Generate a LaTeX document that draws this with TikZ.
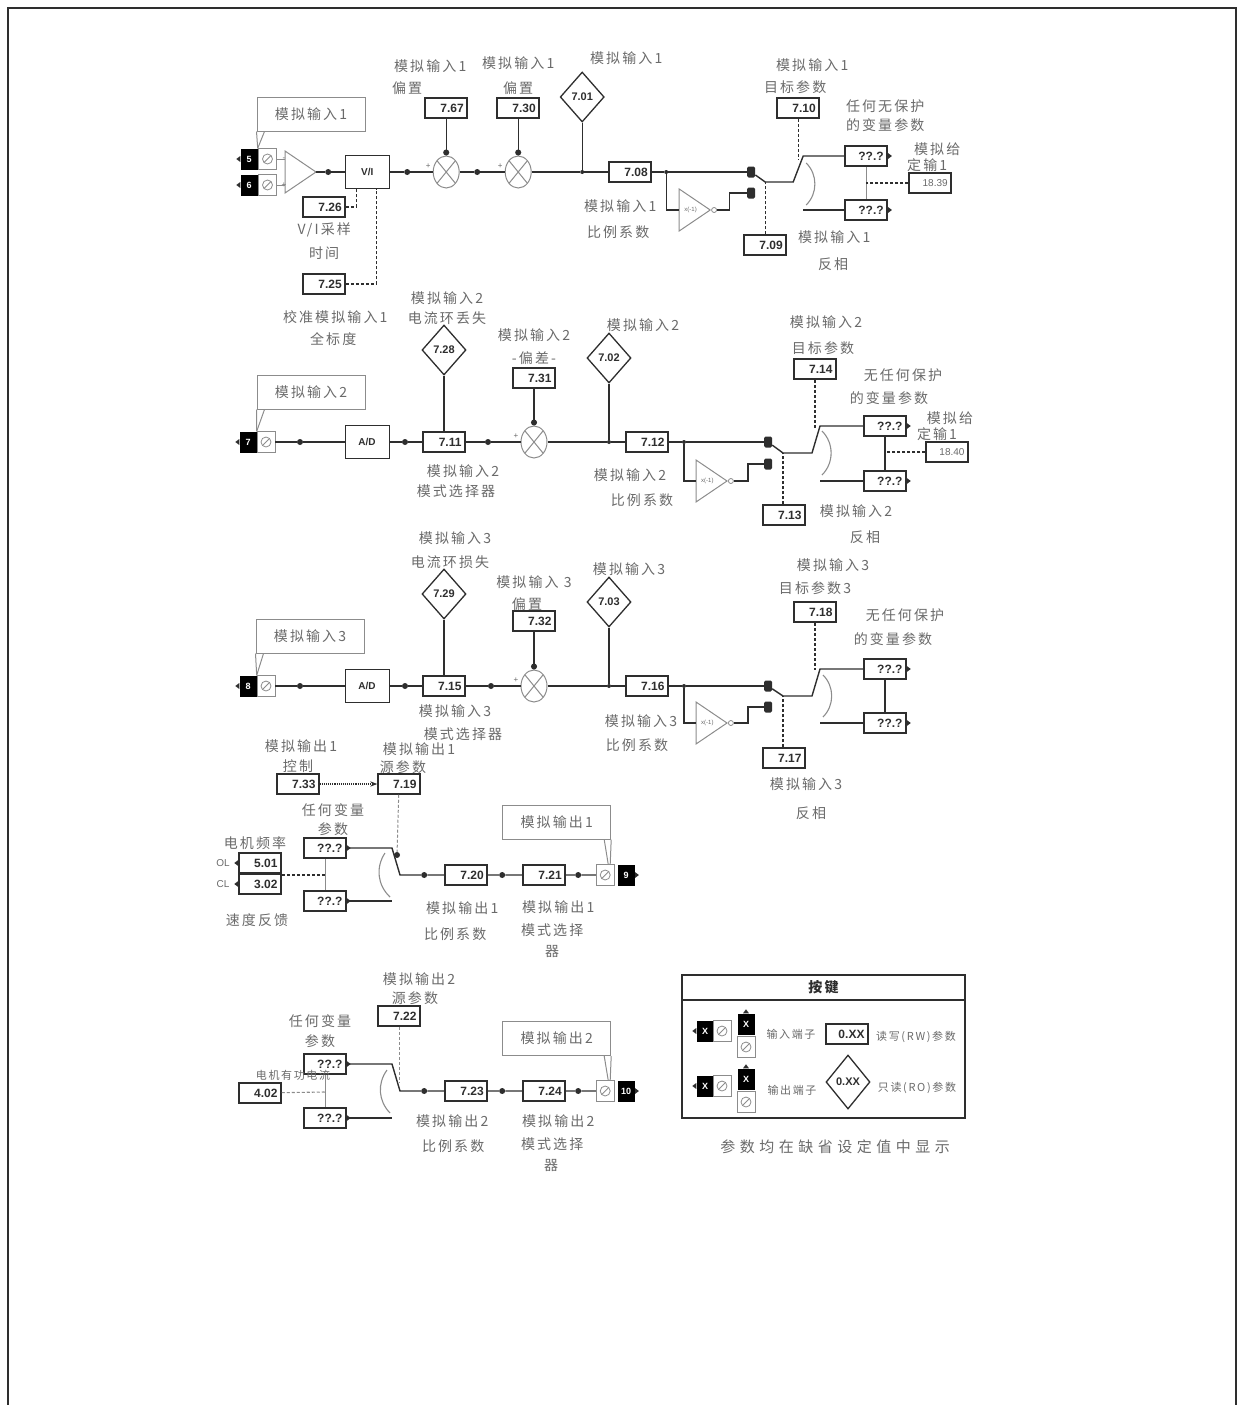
\documentclass[tikz,border=0pt]{standalone}
\usepackage{fontspec}
\setmainfont{Liberation Sans}
\newfontfamily\cjk[LetterSpace=15]{Noto Sans CJK SC}
\newfontfamily\cjkw[LetterSpace=30]{Noto Sans CJK SC}
\usepackage{tikz}
\usetikzlibrary{arrows.meta,positioning,shapes.geometric}
\definecolor{ink}{HTML}{2E2E2E}
\definecolor{soft}{HTML}{8C8C8C}
\definecolor{txt}{HTML}{6A6A6A}

\begin{document}
\begin{tikzpicture}[
  x=1pt, y=-1pt,
  node distance=0pt, on grid,
  lbl/.style={font=\cjk\fontsize{14}{16}\selectfont, text=txt, inner sep=0pt},
  keytxt/.style={font=\cjk\fontsize{11}{13}\selectfont, text=txt, inner sep=0pt},
  pbox/.style={draw=ink, line width=1.5pt, fill=white, text=ink, inner xsep=3.5pt, inner ysep=0pt,
               text width=35pt, align=right, minimum height=20pt, font=\fontsize{12}{12}\selectfont\bfseries},
  qbox/.style={pbox, tipe},
  gbox/.style={pbox, text=txt, font=\fontsize{10}{10}\selectfont},
  dmd/.style={diamond, draw=ink, line width=1.3pt, fill=white, text=ink, inner sep=0pt, aspect=0.88,
              minimum width=44pt, minimum height=50pt, font=\fontsize{11}{11}\selectfont\bfseries},
  blk/.style={draw=ink, line width=1pt, minimum width=44pt, minimum height=33pt, inner sep=0pt,
              text=ink, font=\fontsize{10}{10}\selectfont\bfseries},
  term/.style={fill=black, text=white, minimum width=17pt, minimum height=21pt, inner sep=0pt,
               font=\fontsize{9}{9}\selectfont\bfseries},
  hatch/.style={draw=soft, line width=0.8pt, minimum width=18pt, minimum height=21pt, inner sep=0pt,
                path picture={\draw[soft, line width=0.8pt] (path picture bounding box.center) circle (5pt);
                  \draw[soft, line width=0.8pt] ([shift={(-3.5pt,-3.5pt)}]path picture bounding box.center)
                  -- ([shift={(3.5pt,3.5pt)}]path picture bounding box.center);}},
  summer/.style={ellipse, draw=soft, line width=1pt, minimum width=26pt, minimum height=32pt, inner sep=0pt,
                 path picture={\draw[soft, line width=1pt] (path picture bounding box.north west)
                   -- (path picture bounding box.south east) (path picture bounding box.north east)
                   -- (path picture bounding box.south west);}},
  opamp/.style={isosceles triangle, isosceles triangle stretches, draw=soft, line width=1pt,
                minimum width=42pt, minimum height=31pt, inner sep=0pt, outer sep=0pt, text=txt,
                font=\fontsize{6}{6}\selectfont},
  bubble/.style={circle, draw=soft, line width=0.8pt, minimum size=5pt, inner sep=0pt},
  dot/.style={circle, fill=ink, minimum size=6pt, inner sep=0pt},
  jn/.style={circle, fill=ink, minimum size=4pt, inner sep=0pt},
  blob/.style={fill=ink, rounded corners=1.5pt, minimum width=8pt, minimum height=11pt, inner sep=0pt},
  calbox/.style={draw=soft, line width=1pt, minimum width=108pt, minimum height=34pt, inner sep=0pt,
                 font=\cjk\fontsize{14}{16}\selectfont, text=txt},
  plus/.style={inner sep=0pt, text=txt, font=\fontsize{8}{8}\selectfont},
  tipw/.style={append after command={\pgfextra{\fill[ink] (\tikzlastnode.west) ++(0,3pt) -- ++(-4pt,-3pt) -- ++(4pt,-3pt) -- cycle;}}},
  tipe/.style={append after command={\pgfextra{\fill[ink] (\tikzlastnode.east) ++(0,3pt) -- ++(4pt,-3pt) -- ++(-4pt,-3pt) -- cycle;}}},
  tipn/.style={append after command={\pgfextra{\fill[ink] (\tikzlastnode.north) ++(3pt,0) -- ++(-3pt,4pt) -- ++(-3pt,-4pt) -- cycle;}}},
  sig/.style={draw=ink, line width=1.4pt},
  sigin/.style={sig, -{Circle[length=6pt]}},
  dsh/.style={draw=ink, line width=1.1pt, densely dashed},
  gline/.style={draw=soft, line width=1pt},
  swarc/.style={draw=soft, line width=1.1pt},
  frame/.style={draw=ink, line width=2.5pt}]

\useasboundingbox (0,0) rectangle (1238,1405);
\draw[frame] (8,1405) -- (8,8) -- (1236,8) -- (1236,1405);

\node[term,tipw] (t5) at (249,159) {5};
\node[term,tipw,below=26pt of t5] (t6) {6};
\node[hatch,right=18.5pt of t5] (h5) {};
\node[hatch,right=18.5pt of t6] (h6) {};
\node[calbox,above right=45pt and 62pt of t5] (c1) {模拟输入1};
\node[opamp,below right=13pt and 67pt of t5,anchor=apex] (op1) {};
\node[plus,right=35pt of t5] (op1m) {-};
\node[plus,right=35pt of t6] (op1p) {+};
\node[dot,right=9pt of op1.apex] (d1a) {};
\node[blk,right=39pt of d1a] (vi) {V/I};
\node[dot,right=40pt of vi] (d1b) {};
\node[summer,right=39pt of d1b] (s1) {};
\node[dot,right=31pt of s1] (d1c) {};
\node[summer,right=41pt of d1c] (s2) {};
\node[jn,right=64pt of s2] (j1) {};
\node[pbox,right=48pt of j1] (p708) {7.08};
\node[jn,right=36pt of p708] (j2) {};
\node[blob,right=85pt of j2] (b1a) {};
\node[blob,below=21pt of b1a] (b1b) {};
\node[plus,above left=6pt and 18pt of s1] (s1p) {+};
\node[plus,above left=6pt and 18pt of s2] (s2p) {+};
\node[pbox,above=64pt of s1] (p767) {7.67};
\node[pbox,above=64pt of s2] (p730) {7.30};
\node[dmd,above=75pt of j1] (d701) {7.01};
\node[pbox,below left=35pt and 43pt of vi] (p726) {7.26};
\node[pbox,below=77pt of p726] (p725) {7.25};
\node[pbox,above right=64pt and 47pt of b1a] (p710) {7.10};
\node[pbox,below right=73pt and 14pt of b1a] (p709) {7.09};
\node[qbox,above right=16pt and 115pt of b1a] (q1a) {??.?};
\node[qbox,below=54pt of q1a] (q1b) {??.?};
\node[gbox,below right=27pt and 64pt of q1a] (p1839) {18.39};
\node[opamp,below right=38pt and 44pt of j2,anchor=apex] (inv1) {x(-1)};
\node[bubble,right=1pt of inv1.apex] (bub1) {};
\coordinate[below=38pt of j2] (k1a);
\coordinate[right=19pt of inv1.apex] (k1b);
\coordinate[above=17pt of k1b] (k1c);
\coordinate[below right=10pt and 14pt of b1a] (sw1a);
\coordinate[right=28pt of sw1a] (sw1b);
\coordinate[above right=26pt and 10pt of sw1b] (sw1c);
\coordinate[left=63pt of q1b] (sw1d);
\coordinate[below=52pt of p710] (sw1e);
\coordinate[below right=7pt and 3pt of sw1c] (arc1a);
\coordinate[above right=5pt and 3pt of sw1d] (arc1b);

\node[lbl,above left=42pt and 16pt of p767] (l1a) {模拟输入1};
\node[lbl,above left=20pt and 39pt of p767] (l1b) {偏置};
\node[lbl,above=45pt of p730] (l1c) {模拟输入1};
\node[lbl,above=20pt of p730] (l1d) {偏置};
\node[lbl,above right=39pt and 44pt of d701] (l1e) {模拟输入1};
\node[lbl,above right=43pt and 14pt of p710] (l1f) {模拟输入1};
\node[lbl,above left=21pt and 3pt of p710] (l1g) {目标参数};
\node[lbl,above right=50pt and 19pt of q1a] (l1h) {任何无保护};
\node[lbl,above right=31pt and 19pt of q1a] (l1i) {的变量参数};
\node[lbl,above right=34pt and 7pt of p1839] (l1j) {模拟给};
\node[lbl,above left=18pt and 3pt of p1839] (l1k) {定输1};
\node[lbl,below left=34pt and 10pt of p708] (l1l) {模拟输入1};
\node[lbl,below left=60pt and 12pt of p708] (l1m) {比例系数};
\node[lbl,above right=8pt and 69pt of p709] (l1n) {模拟输入1};
\node[lbl,below right=19pt and 68pt of p709] (l1o) {反相};
\node[lbl,below=23pt of p726] (l1p) {V/I采样};
\node[lbl,below=46pt of p726] (l1q) {时间};
\node[lbl,below right=33pt and 11pt of p725] (l1r) {校准模拟输入1};
\node[lbl,below right=55pt and 9pt of p725] (l1s) {全标度};

\draw[gline] (c1.south west) -- (t5.north east);
\draw[gline] ([xshift=8pt]c1.south west) -- (t5.north east);
\draw[gline] (h5.east) -- (h5 -| op1.lower side);
\draw[gline] (h6.east) -- (h6 -| op1.lower side);
\draw[sig] (op1.apex) -- (d1a) -- (vi) -- (d1b) -- (s1) -- (d1c) -- (s2) -- (j1) -- (p708) -- (j2) -- (b1a);
\draw[sigin] (p767) -- (s1);
\draw[sigin] (p730) -- (s2);
\draw[sig] (d701) -- (j1);
\draw[sig] (j2) -- (k1a) -- (inv1.lower side |- k1a);
\draw[sig] (bub1) -- (k1b) -- (k1c) -- (b1b);
\draw[sig] (b1a) -- (sw1a) -- (sw1b) -- (sw1c) -- (q1a);
\draw[sig] (sw1d) -- (q1b);
\draw[swarc] (arc1a) to[bend left=45] (arc1b);
\draw[dsh] (p710) -- (sw1e);
\draw[dsh] (p709) -- (sw1a);
\draw[gline] (q1a) -- (q1b);
\draw[dsh] (p1839) -- (p1839 -| q1a);
\draw[dsh] (p726.east) -| ([xshift=-11pt]vi.south);
\draw[dsh] (p725) -| ([xshift=9pt]vi.south);

\node[term,tipw] (t7) at (248,442) {7};
\node[hatch,right=18pt of t7] (h7) {};
\node[calbox,above right=50pt and 63pt of t7] (c2) {模拟输入2};
\node[dot,right=52pt of t7] (d2a) {};
\node[blk,right=119pt of t7] (ad2) {A/D};
\node[dot,right=38pt of ad2] (d2b) {};
\node[pbox,right=39pt of d2b] (p711) {7.11};
\node[dot,right=44pt of p711] (d2c) {};
\node[summer,right=46pt of d2c] (s3) {};
\node[plus,above left=6pt and 18pt of s3] (s3p) {+};
\node[jn,right=75pt of s3] (j3) {};
\node[pbox,right=38pt of j3] (p712) {7.12};
\node[jn,right=37pt of p712] (j4) {};
\node[blob,right=84pt of j4] (b2a) {};
\node[blob,below=22pt of b2a] (b2b) {};
\node[pbox,above=64pt of s3] (p731) {7.31};
\node[dmd,above=92pt of p711] (d728) {7.28};
\node[dmd,above=84pt of j3] (d702) {7.02};
\node[pbox,above right=73pt and 47pt of b2a] (p714) {7.14};
\node[pbox,below right=73pt and 16pt of b2a] (p713) {7.13};
\node[qbox,above right=16pt and 117pt of b2a] (q2a) {??.?};
\node[qbox,below=55pt of q2a] (q2b) {??.?};
\node[gbox,below right=26pt and 62pt of q2a] (p1840) {18.40};
\node[opamp,below right=39pt and 43pt of j4,anchor=apex] (inv2) {x(-1)};
\node[bubble,right=1pt of inv2.apex] (bub2) {};
\coordinate[below=39pt of j4] (k2a);
\coordinate[right=21pt of inv2.apex] (k2b);
\coordinate[above=17pt of k2b] (k2c);
\coordinate[below right=11pt and 15pt of b2a] (sw2a);
\coordinate[right=29pt of sw2a] (sw2b);
\coordinate[above right=27pt and 8pt of sw2b] (sw2c);
\coordinate[left=65pt of q2b] (sw2d);
\coordinate[below=59pt of p714] (sw2e);
\coordinate[below right=5pt and 2pt of sw2c] (arc2a);
\coordinate[above right=6pt and 2pt of sw2d] (arc2b);

\node[lbl,above right=52pt and 3pt of d728] (l2a) {模拟输入2};
\node[lbl,above right=32pt and 3pt of d728] (l2b) {电流环丢失};
\node[lbl,above=43pt of p731] (l2c) {模拟输入2};
\node[lbl,above=20pt of p731] (l2d) {-偏差-};
\node[lbl,above right=33pt and 34pt of d702] (l2e) {模拟输入2};
\node[lbl,below right=29pt and 19pt of p711] (l2f) {模拟输入2};
\node[lbl,below right=49pt and 12pt of p711] (l2g) {模式选择器};
\node[lbl,below left=33pt and 17pt of p712] (l2h) {模拟输入2};
\node[lbl,below left=58pt and 5pt of p712] (l2i) {比例系数};
\node[lbl,above right=47pt and 11pt of p714] (l2j) {模拟输入2};
\node[lbl,above right=21pt and 8pt of p714] (l2k) {目标参数};
\node[lbl,above right=51pt and 18pt of q2a] (l2l) {无任何保护};
\node[lbl,above right=28pt and 4pt of q2a] (l2m) {的变量参数};
\node[lbl,above right=34pt and 3pt of p1840] (l2n) {模拟给};
\node[lbl,above left=18pt and 10pt of p1840] (l2o) {定输1};
\node[lbl,above right=4pt and 72pt of p713] (l2p) {模拟输入2};
\node[lbl,below right=22pt and 81pt of p713] (l2q) {反相};

\draw[gline] (c2.south west) -- (t7.north east);
\draw[gline] ([xshift=8pt]c2.south west) -- (t7.north east);
\draw[sig] (h7) -- (d2a) -- (ad2) -- (d2b) -- (p711) -- (d2c) -- (s3) -- (j3) -- (p712) -- (j4) -- (b2a);
\draw[sigin] (p731) -- (s3);
\draw[sig] (d728) -- (p711);
\draw[sig] (d702) -- (j3);
\draw[sig] (j4) -- (k2a) -- (inv2.lower side |- k2a);
\draw[sig] (bub2) -- (k2b) -- (k2c) -- (b2b);
\draw[sig] (b2a) -- (sw2a) -- (sw2b) -- (sw2c) -- (q2a);
\draw[sig] (sw2d) -- (q2b);
\draw[swarc] (arc2a) to[bend left=45] (arc2b);
\draw[dsh] (p714) -- (sw2e);
\draw[dsh] (p713.north -| sw2a) -- (sw2a);
\draw[sig] (q2a) -- (q2b);
\draw[dsh] (p1840) -- (p1840 -| q2a);

\node[term,tipw] (t8) at (248,686) {8};
\node[hatch,right=18pt of t8] (h8) {};
\node[calbox,above right=50pt and 62pt of t8] (c3) {模拟输入3};
\node[dot,right=52pt of t8] (d3a) {};
\node[blk,right=119pt of t8] (ad3) {A/D};
\node[dot,right=38pt of ad3] (d3b) {};
\node[pbox,right=39pt of d3b] (p715) {7.15};
\node[dot,right=47pt of p715] (d3c) {};
\node[summer,right=43pt of d3c] (s4) {};
\node[plus,above left=6pt and 18pt of s4] (s4p) {+};
\node[jn,right=75pt of s4] (j5) {};
\node[pbox,right=38pt of j5] (p716) {7.16};
\node[jn,right=37pt of p716] (j6) {};
\node[blob,right=84pt of j6] (b3a) {};
\node[blob,below=21pt of b3a] (b3b) {};
\node[pbox,above=65pt of s4] (p732) {7.32};
\node[dmd,above=92pt of p715] (d729) {7.29};
\node[dmd,above=84pt of j5] (d703) {7.03};
\node[pbox,above right=74pt and 47pt of b3a] (p718) {7.18};
\node[pbox,below right=72pt and 16pt of b3a] (p717) {7.17};
\node[qbox,above right=17pt and 117pt of b3a] (q3a) {??.?};
\node[qbox,below=54pt of q3a] (q3b) {??.?};
\node[opamp,below right=37pt and 43pt of j6,anchor=apex] (inv3) {x(-1)};
\node[bubble,right=1pt of inv3.apex] (bub3) {};
\coordinate[below=37pt of j6] (k3a);
\coordinate[right=21pt of inv3.apex] (k3b);
\coordinate[above=16pt of k3b] (k3c);
\coordinate[below right=10pt and 15pt of b3a] (sw3a);
\coordinate[right=29pt of sw3a] (sw3b);
\coordinate[above right=27pt and 8pt of sw3b] (sw3c);
\coordinate[left=65pt of q3b] (sw3d);
\coordinate[below=58pt of p718] (sw3e);
\coordinate[below right=6pt and 3pt of sw3c] (arc3a);
\coordinate[above right=6pt and 3pt of sw3d] (arc3b);

\node[lbl,above right=56pt and 11pt of d729] (l3a) {模拟输入3};
\node[lbl,above right=32pt and 6pt of d729] (l3b) {电流环损失};
\node[lbl,above=39pt of p732] (l3c) {模拟输入 3};
\node[lbl,above left=17pt and 7pt of p732] (l3d) {偏置};
\node[lbl,above right=33pt and 20pt of d703] (l3e) {模拟输入3};
\node[lbl,below right=25pt and 11pt of p715] (l3f) {模拟输入3};
\node[lbl,below right=48pt and 19pt of p715] (l3g) {模式选择器};
\node[lbl,below left=35pt and 6pt of p716] (l3h) {模拟输入3};
\node[lbl,below left=59pt and 10pt of p716] (l3i) {比例系数};
\node[lbl,above right=47pt and 18pt of p718] (l3j) {模拟输入3};
\node[lbl,above=24pt of p718] (l3k) {目标参数3};
\node[lbl,above right=54pt and 20pt of q3a] (l3l) {无任何保护};
\node[lbl,above right=30pt and 8pt of q3a] (l3m) {的变量参数};
\node[lbl,below right=26pt and 22pt of p717] (l3n) {模拟输入3};
\node[lbl,below right=55pt and 27pt of p717] (l3o) {反相};

\draw[gline] (c3.south west) -- (t8.north east);
\draw[gline] ([xshift=8pt]c3.south west) -- (t8.north east);
\draw[sig] (h8) -- (d3a) -- (ad3) -- (d3b) -- (p715) -- (d3c) -- (s4) -- (j5) -- (p716) -- (j6) -- (b3a);
\draw[sigin] (p732) -- (s4);
\draw[sig] (d729) -- (p715);
\draw[sig] (d703) -- (j5);
\draw[sig] (j6) -- (k3a) -- (inv3.lower side |- k3a);
\draw[sig] (bub3) -- (k3b) -- (k3c) -- (b3b);
\draw[sig] (b3a) -- (sw3a) -- (sw3b) -- (sw3c) -- (q3a);
\draw[sig] (sw3d) -- (q3b);
\draw[swarc] (arc3a) to[bend left=45] (arc3b);
\draw[dsh] (p718) -- (sw3e);
\draw[dsh] (p717.north -| sw3a) -- (sw3a);
\draw[sig] (q3a) -- (q3b);

\node[pbox] (p733) at (298,784) {7.33};
\node[pbox,right=101pt of p733] (p719) {7.19};
\node[pbox,tipe,below right=64pt and 27pt of p733] (q4a) {??.?};
\node[pbox,tipe,below=53pt of q4a] (q4b) {??.?};
\coordinate[right=67pt of q4a] (sw4a);
\coordinate[below right=27pt and 8pt of sw4a] (sw4b);
\coordinate[right=67pt of q4b] (sw4d);
\coordinate[below right=5pt and 60pt of q4a] (arc4a);
\coordinate[above right=4pt and 65pt of q4b] (arc4b);
\coordinate[below=27pt of q4a] (m4);
\node[dot,below left=71pt and 2pt of p719] (d4x) {};
\node[dot,right=21pt of sw4b] (d4a) {};
\node[pbox,right=42pt of d4a] (p720) {7.20};
\node[dot,right=36pt of p720] (d4b) {};
\node[pbox,right=42pt of d4b] (p721) {7.21};
\node[dot,right=34pt of p721] (d4c) {};
\node[hatch,right=27pt of d4c] (h9) {};
\node[term,tipe,right=21pt of h9] (t9) {9};
\node[calbox,above left=53pt and 48.5pt of h9] (c4) {模拟输出1};
\node[pbox,tipw,below left=79pt and 38pt of p733] (p501) {5.01};
\node[pbox,tipw,below=21pt of p501] (p302) {3.02};
\node[plus,left=37pt of p501,font=\fontsize{10}{10}\selectfont] (nol) {OL};
\node[plus,left=37pt of p302,font=\fontsize{10}{10}\selectfont] (ncl) {CL};

\node[lbl,above right=38pt and 3pt of p733] (l4a) {模拟输出1};
\node[lbl,above=18pt of p733] (l4b) {控制};
\node[lbl,above right=35pt and 20pt of p719] (l4c) {模拟输出1};
\node[lbl,above right=17pt and 4pt of p719] (l4d) {源参数};
\node[lbl,above right=38pt and 8pt of q4a] (l4e) {任何变量};
\node[lbl,above right=19pt and 8pt of q4a] (l4f) {参数};
\node[lbl,above left=20pt and 5pt of p501] (l4g) {电机频率};
\node[lbl,below left=36pt and 3pt of p302] (l4h) {速度反馈};
\node[lbl,below left=33pt and 4pt of p720] (l4i) {模拟输出1};
\node[lbl,below left=59pt and 11pt of p720] (l4j) {比例系数};
\node[lbl,below right=32pt and 14pt of p721] (l4k) {模拟输出1};
\node[lbl,below right=55pt and 8pt of p721] (l4l) {模式选择};
\node[lbl,below right=76pt and 8pt of p721] (l4m) {器};

\draw[dsh,densely dotted,-{Stealth[length=7pt]}] (p733) -- (p719);
\draw[gline,densely dashed] (p719) -- (d4x);
\draw[sig] (q4a) -- (sw4a) -- (sw4b) -- (d4a) -- (p720) -- (d4b) -- (p721) -- (d4c) -- (h9);
\draw[sig] (q4b) -- (sw4d);
\draw[swarc] (arc4a) to[bend right=40] (arc4b);
\draw[gline] (q4a) -- (q4b);
\draw[dsh] (p501.south east |- m4) -- (m4);
\draw[gline] (c4.south east) -- ([xshift=5pt]h9.north);
\draw[gline] ([xshift=-7pt]c4.south east) -- ([xshift=3pt]h9.north);

\node[pbox] (p722) at (399,1016) {7.22};
\node[pbox,tipe,below left=48pt and 74pt of p722] (q5a) {??.?};
\node[pbox,tipe,below=54pt of q5a] (q5b) {??.?};
\coordinate[right=67pt of q5a] (sw5a);
\coordinate[below right=27pt and 8pt of sw5a] (sw5b);
\coordinate[right=67pt of q5b] (sw5d);
\coordinate[below right=6pt and 62pt of q5a] (arc5a);
\coordinate[above right=5pt and 65pt of q5b] (arc5b);
\coordinate[below=66pt of p722] (sw5e);
\coordinate[below=28pt of q5a] (m5);
\node[dot,right=21pt of sw5b] (d5a) {};
\node[pbox,right=42pt of d5a] (p723) {7.23};
\node[dot,right=36pt of p723] (d5b) {};
\node[pbox,right=42pt of d5b] (p724) {7.24};
\node[dot,right=34pt of p724] (d5c) {};
\node[hatch,right=27pt of d5c] (h10) {};
\node[term,tipe,right=21pt of h10] (t10) {10};
\node[calbox,above left=52.5pt and 48.5pt of h10] (c5) {模拟输出2};
\node[pbox,below left=29pt and 65pt of q5a] (p402) {4.02};

\node[lbl,above right=37pt and 20pt of p722] (l5a) {模拟输出2};
\node[lbl,above right=18pt and 16pt of p722] (l5b) {源参数};
\node[lbl,above left=43pt and 5pt of q5a] (l5c) {任何变量};
\node[lbl,above left=23pt and 5pt of q5a] (l5d) {参数};
\node[keytxt,above right=18pt and 33pt of p402] (l5e) {电机有功电流};
\node[lbl,below left=30pt and 14pt of p723] (l5f) {模拟输出2};
\node[lbl,below left=55pt and 13pt of p723] (l5g) {比例系数};
\node[lbl,below right=30pt and 14pt of p724] (l5h) {模拟输出2};
\node[lbl,below right=53pt and 8pt of p724] (l5i) {模式选择};
\node[lbl,below right=74pt and 7pt of p724] (l5j) {器};

\draw[dsh,gline,densely dashed] (p722) -- (sw5e);
\draw[sig] (q5a) -- (sw5a) -- (sw5b) -- (d5a) -- (p723) -- (d5b) -- (p724) -- (d5c) -- (h10);
\draw[sig] (q5b) -- (sw5d);
\draw[swarc] (arc5a) to[bend right=40] (arc5b);
\draw[gline] (q5a) -- (q5b);
\draw[dsh,draw=soft] (p402) -- (m5);
\draw[gline] (c5.south east) -- ([xshift=5pt]h10.north);
\draw[gline] ([xshift=-7pt]c5.south east) -- ([xshift=3pt]h10.north);

\node[draw=ink,line width=1.5pt,minimum width=283pt,minimum height=143pt,inner sep=0pt] (kb) at (823.5,1046.5) {};
\node[draw=ink,line width=1.5pt,minimum width=283pt,minimum height=25pt,inner sep=0pt,text=ink,
      font=\cjk\fontsize{14}{16}\selectfont\bfseries,below=0pt of kb.north] (kh) {按键};
\node[term,tipw,above left=15.5pt and 118.5pt of kb] (kt1) {X};
\node[hatch,right=17pt of kt1] (kh1) {};
\node[term,tipn,above right=7pt and 41pt of kt1] (ku1) {X};
\node[hatch,below=23pt of ku1] (kv1) {};
\node[keytxt,below right=3pt and 86pt of kt1] (kx1) {输入端子};
\node[pbox,right=56pt of kx1] (kp) {0.XX};
\node[keytxt,below right=3pt and 69pt of kp] (kx2) {读写(RW)参数};
\node[term,tipw,below=55pt of kt1] (kt2) {X};
\node[hatch,right=17pt of kt2] (kh2) {};
\node[term,tipn,above right=7pt and 41pt of kt2] (ku2) {X};
\node[hatch,below=23pt of ku2] (kv2) {};
\node[keytxt,below right=4pt and 87pt of kt2] (kx3) {输出端子};
\node[dmd,above right=8pt and 56pt of kx3,minimum height=54pt] (kd) {0.XX};
\node[keytxt,below right=6pt and 69pt of kd] (kx4) {只读(RO)参数};
\node[lbl,font=\cjkw\fontsize{15}{17}\selectfont,below right=100.5pt and 11.5pt of kb] (kc) {参数均在缺省设定值中显示};
\end{tikzpicture}
\end{document}
